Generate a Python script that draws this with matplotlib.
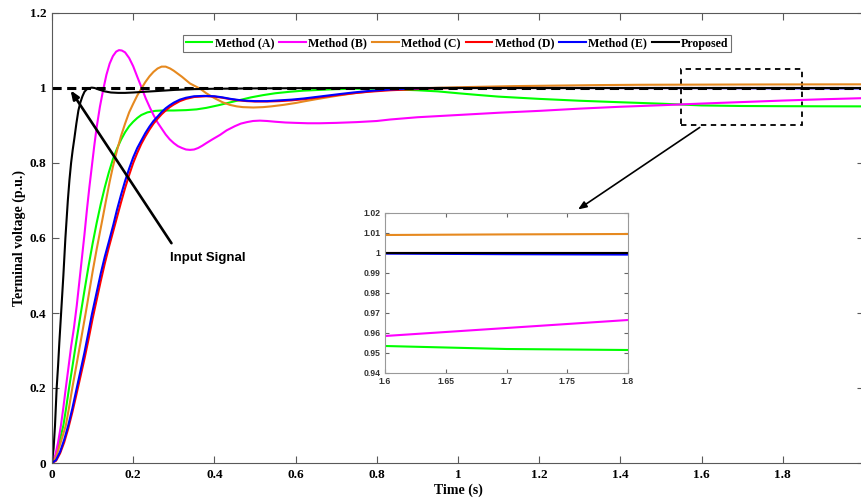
import matplotlib
matplotlib.use('Agg')
import matplotlib.pyplot as plt
from matplotlib.ticker import FuncFormatter
from matplotlib.patches import Rectangle

# Valores (tempo em s, tensao em p.u.)
t_a = [0, 0.01, 0.02, 0.028, 0.035, 0.042, 0.05, 0.06, 0.071, 0.08, 0.09, 0.1, 0.11, 0.12, 0.13, 0.14,
       0.15, 0.16, 0.17, 0.18, 0.19, 0.2, 0.21, 0.22, 0.235, 0.254, 0.27, 0.30, 0.33, 0.356, 0.38, 0.41,
       0.44, 0.463, 0.49, 0.52, 0.55, 0.586, 0.62, 0.66, 0.70, 0.75, 0.80, 0.85, 0.90, 0.95, 1.0, 1.054,
       1.1, 1.15, 1.2, 1.3, 1.4, 1.505, 1.6, 1.7, 1.8, 1.9, 2.0]
v_a = [0, 0.022, 0.065, 0.1, 0.148, 0.2, 0.255, 0.325, 0.4, 0.46, 0.525, 0.585, 0.64, 0.69, 0.735, 0.775,
       0.81, 0.838, 0.862, 0.882, 0.898, 0.91, 0.92, 0.928, 0.935, 0.939, 0.940, 0.940, 0.941, 0.943, 0.947, 0.954,
       0.962, 0.968, 0.975, 0.981, 0.986, 0.990, 0.993, 0.995, 0.997, 0.998, 0.998, 0.996, 0.994, 0.991, 0.986, 0.981,
       0.977, 0.974, 0.971, 0.966, 0.962, 0.958, 0.9535, 0.952, 0.9515, 0.9512, 0.951]

t_b = [0, 0.008, 0.015, 0.022, 0.028, 0.034, 0.04, 0.047, 0.054, 0.061, 0.068, 0.074, 0.08, 0.086, 0.092,
       0.098, 0.104, 0.11, 0.118, 0.126, 0.134, 0.142, 0.15, 0.158, 0.165, 0.172, 0.18, 0.19, 0.2, 0.21,
       0.221, 0.231, 0.241, 0.25, 0.26, 0.27, 0.28, 0.29, 0.30, 0.31, 0.32, 0.33, 0.34, 0.35, 0.36, 0.37,
       0.38, 0.395, 0.414, 0.43, 0.45, 0.465, 0.48, 0.495, 0.512, 0.53, 0.55, 0.575, 0.60, 0.63, 0.66,
       0.70, 0.75, 0.80, 0.833, 0.9, 1.0, 1.1, 1.2, 1.3, 1.4, 1.5, 1.6, 1.7, 1.8, 1.9, 2.0]
v_b = [0, 0.02, 0.055, 0.1, 0.148, 0.2, 0.25, 0.31, 0.36, 0.42, 0.49, 0.55, 0.61, 0.675, 0.735,
       0.79, 0.845, 0.895, 0.95, 0.995, 1.035, 1.065, 1.085, 1.097, 1.101, 1.1, 1.095, 1.08, 1.058, 1.03,
       1.0, 0.972, 0.948, 0.928, 0.908, 0.892, 0.876, 0.863, 0.853, 0.845, 0.84, 0.836, 0.835, 0.836, 0.84, 0.846,
       0.853, 0.863, 0.875, 0.887, 0.898, 0.905, 0.909, 0.912, 0.913, 0.912, 0.91, 0.908, 0.907, 0.906, 0.906,
       0.907, 0.909, 0.912, 0.916, 0.922, 0.928, 0.934, 0.939, 0.945, 0.95, 0.954, 0.9585, 0.9625, 0.9665, 0.97, 0.973]

t_c = [0, 0.01, 0.02, 0.027, 0.034, 0.042, 0.05, 0.06, 0.07, 0.083, 0.09, 0.1, 0.11, 0.118, 0.126, 0.133,
       0.142, 0.15, 0.16, 0.17, 0.18, 0.19, 0.2, 0.21, 0.221, 0.23, 0.24, 0.25, 0.26, 0.27, 0.28, 0.291,
       0.30, 0.32, 0.34, 0.365, 0.38, 0.40, 0.42, 0.438, 0.455, 0.47, 0.496, 0.52, 0.54, 0.57, 0.60, 0.619,
       0.65, 0.70, 0.75, 0.80, 0.833, 0.9, 1.0, 1.136, 1.25, 1.35, 1.45, 1.6, 1.7, 1.8, 2.0]
v_c = [0, 0.016, 0.05, 0.075, 0.1, 0.148, 0.2, 0.26, 0.32, 0.4, 0.445, 0.51, 0.57, 0.615, 0.66, 0.7,
       0.75, 0.79, 0.833, 0.872, 0.905, 0.935, 0.958, 0.98, 1.0, 1.016, 1.031, 1.043, 1.052, 1.057, 1.057, 1.052,
       1.046, 1.03, 1.012, 0.998, 0.986, 0.973, 0.962, 0.955, 0.951, 0.949, 0.948, 0.949, 0.951, 0.955, 0.96, 0.964,
       0.97, 0.979, 0.987, 0.993, 0.996, 0.999, 1.002, 1.005, 1.0065, 1.0078, 1.0086, 1.009, 1.0093, 1.0095, 1.0098]

t_d = [0, 0.01, 0.02, 0.03, 0.04, 0.05, 0.06, 0.07, 0.08, 0.09, 0.1, 0.11, 0.12, 0.13, 0.14, 0.15, 0.16,
       0.17, 0.18, 0.19, 0.2, 0.21, 0.22, 0.23, 0.24, 0.25, 0.26, 0.27, 0.28, 0.29, 0.30, 0.315, 0.33, 0.35,
       0.38, 0.40, 0.42, 0.44, 0.46, 0.48, 0.5, 0.53, 0.56, 0.59, 0.62, 0.65, 0.68, 0.71, 0.742, 0.78, 0.833,
       0.9, 0.95, 1.0, 1.2, 2.0]
v_d = [0, 0.006, 0.026, 0.055, 0.092, 0.135, 0.182, 0.23, 0.278, 0.33, 0.385, 0.435, 0.485, 0.532, 0.575, 0.615, 0.655,
       0.695, 0.733, 0.768, 0.8, 0.827, 0.851, 0.871, 0.889, 0.905, 0.918, 0.93, 0.94, 0.949, 0.956, 0.965, 0.971, 0.976,
       0.978, 0.977, 0.974, 0.97, 0.967, 0.965, 0.964, 0.964, 0.965, 0.967, 0.97, 0.974, 0.978, 0.982, 0.986, 0.99, 0.994,
       0.997, 0.999, 1.0, 1.0, 1.0]

t_e = [0, 0.01, 0.02, 0.03, 0.04, 0.05, 0.061, 0.07, 0.08, 0.09, 0.098, 0.11, 0.12, 0.13, 0.14, 0.151, 0.16,
       0.17, 0.18, 0.19, 0.2, 0.21, 0.221, 0.23, 0.24, 0.25, 0.261, 0.27, 0.28, 0.29, 0.30, 0.315, 0.33, 0.35,
       0.375, 0.40, 0.42, 0.44, 0.46, 0.48, 0.5, 0.53, 0.56, 0.59, 0.62, 0.65, 0.68, 0.71, 0.742, 0.78, 0.833,
       0.9, 0.95, 1.0, 1.2, 1.6, 1.7, 1.8, 2.0]
v_e = [0, 0.008, 0.03, 0.062, 0.1, 0.145, 0.2, 0.245, 0.295, 0.35, 0.395, 0.455, 0.505, 0.55, 0.59, 0.635, 0.675,
       0.715, 0.752, 0.785, 0.815, 0.84, 0.862, 0.88, 0.897, 0.912, 0.925, 0.936, 0.946, 0.954, 0.961, 0.969, 0.974, 0.978,
       0.979, 0.978, 0.975, 0.971, 0.968, 0.966, 0.965, 0.965, 0.967, 0.969, 0.972, 0.976, 0.98, 0.984, 0.988, 0.992, 0.996,
       0.999, 1.0, 1.0, 1.0, 0.9997, 0.9994, 0.9992, 0.999]

t_p = [0, 0.004, 0.0074, 0.0115, 0.015, 0.018, 0.023, 0.028, 0.033, 0.039, 0.043, 0.047, 0.051, 0.055, 0.06,
       0.065, 0.07, 0.075, 0.08, 0.085, 0.09, 0.098, 0.105, 0.115, 0.13, 0.145, 0.163, 0.18, 0.2, 0.229, 0.26,
       0.303, 0.35, 0.4, 0.5, 0.6, 0.7, 0.8, 1.0, 1.6, 1.8, 2.0]
v_p = [0, 0.04, 0.1, 0.2, 0.26, 0.32, 0.41, 0.5, 0.6, 0.7, 0.755, 0.8, 0.835, 0.865, 0.905,
       0.94, 0.962, 0.978, 0.99, 0.996, 0.999, 1.001, 1.0, 0.996, 0.991, 0.988, 0.987, 0.987, 0.988, 0.990, 0.992,
       0.995, 0.997, 0.998, 0.999, 0.9995, 1.0, 1.0, 1.0, 1.0, 1.0, 1.0]

t_ref = [0, 2.0]
v_ref = [1.0, 1.0]

series = [(t_a, v_a, '#00ff00', 'Method (A)'),
          (t_b, v_b, '#ff00ff', 'Method (B)'),
          (t_c, v_c, '#e6891f', 'Method (C)'),
          (t_d, v_d, '#ff0000', 'Method (D)'),
          (t_e, v_e, '#0000ff', 'Method (E)'),
          (t_p, v_p, '#000000', 'Proposed')]

serif = ['Liberation Serif', 'DejaVu Serif']
sans = ['Liberation Sans', 'DejaVu Sans']

fig = plt.figure(figsize=(8.62, 5.04), dpi=100)
ax = fig.add_axes([52 / 862, 41 / 504, 812 / 862, 450 / 504])

for t, v, cor, nome in series:
    ax.plot(t, v, color=cor, lw=1.5, label=nome)
ax.plot(t_ref, v_ref, color='black', lw=2.2, ls=(0, (3, 1.8)))

ax.set_xlim(0, 2)
ax.set_ylim(0, 1.2)
ax.set_xticks([0, 0.2, 0.4, 0.6, 0.8, 1, 1.2, 1.4, 1.6, 1.8])
ax.set_yticks([0, 0.2, 0.4, 0.6, 0.8, 1, 1.2])
fmt = FuncFormatter(lambda x, pos: '%g' % round(x, 3))
ax.xaxis.set_major_formatter(fmt)
ax.yaxis.set_major_formatter(fmt)
ax.tick_params(direction='in', length=5, top=True, right=True, color='0.35', pad=4)
for lab in ax.get_xticklabels() + ax.get_yticklabels():
    lab.set_family(serif)
    lab.set_fontweight('bold')
    lab.set_fontsize(9.5)
for s in ax.spines.values():
    s.set_color('0.35')
ax.set_xlabel('Time (s)', family=serif, fontweight='bold', fontsize=10, labelpad=2)
ax.set_ylabel('Terminal voltage (p.u.)', family=serif, fontweight='bold', fontsize=10, labelpad=3)

leg = ax.legend(loc='center', bbox_to_anchor=(0.499, 0.932), ncol=6, frameon=True, fancybox=False,
                prop={'family': serif, 'weight': 'bold', 'size': 8.6}, handlelength=2.2,
                handletextpad=0.2, columnspacing=0.45, borderpad=0.2, borderaxespad=0)
leg.get_frame().set_edgecolor('0.3')
leg.get_frame().set_linewidth(0.8)

# anotacao do sinal de entrada
ax.annotate('', xy=(0.042, 1.0), xytext=(0.298, 0.58),
            arrowprops=dict(arrowstyle='-|>,head_length=0.5,head_width=0.2', color='black', lw=1.9))
ax.text(0.29, 0.547, 'Input Signal', family=sans, fontweight='bold', fontsize=9.5, va='center')

# retangulo do zoom e seta
ax.add_patch(Rectangle((1.549, 0.901), 0.298, 0.15, fill=False, ls=(0, (3, 2.5)), lw=1.3, color='black'))
ax.annotate('', xy=(1.29, 0.672), xytext=(1.601, 0.899),
            arrowprops=dict(arrowstyle='-|>,head_length=0.5,head_width=0.2', color='black', lw=1.2))

# grafico interno
axi = fig.add_axes([385 / 862, 131 / 504, 243 / 862, 160 / 504])
for t, v, cor, nome in series:
    axi.plot(t, v, color=cor, lw=1.5)
axi.set_xlim(1.6, 1.8)
axi.set_ylim(0.94, 1.02)
axi.set_xticks([1.6, 1.65, 1.7, 1.75, 1.8])
axi.set_yticks([0.94, 0.95, 0.96, 0.97, 0.98, 0.99, 1.0, 1.01, 1.02])
axi.xaxis.set_major_formatter(fmt)
axi.yaxis.set_major_formatter(fmt)
axi.tick_params(direction='in', length=3, top=True, right=True, color='0.4', labelcolor='0.2',
                labelsize=6.2, pad=3)
for lab in axi.get_xticklabels() + axi.get_yticklabels():
    lab.set_family(sans)
    lab.set_fontweight('bold')
for s in axi.spines.values():
    s.set_color('0.6')

fig.savefig('out.png', dpi=100)
